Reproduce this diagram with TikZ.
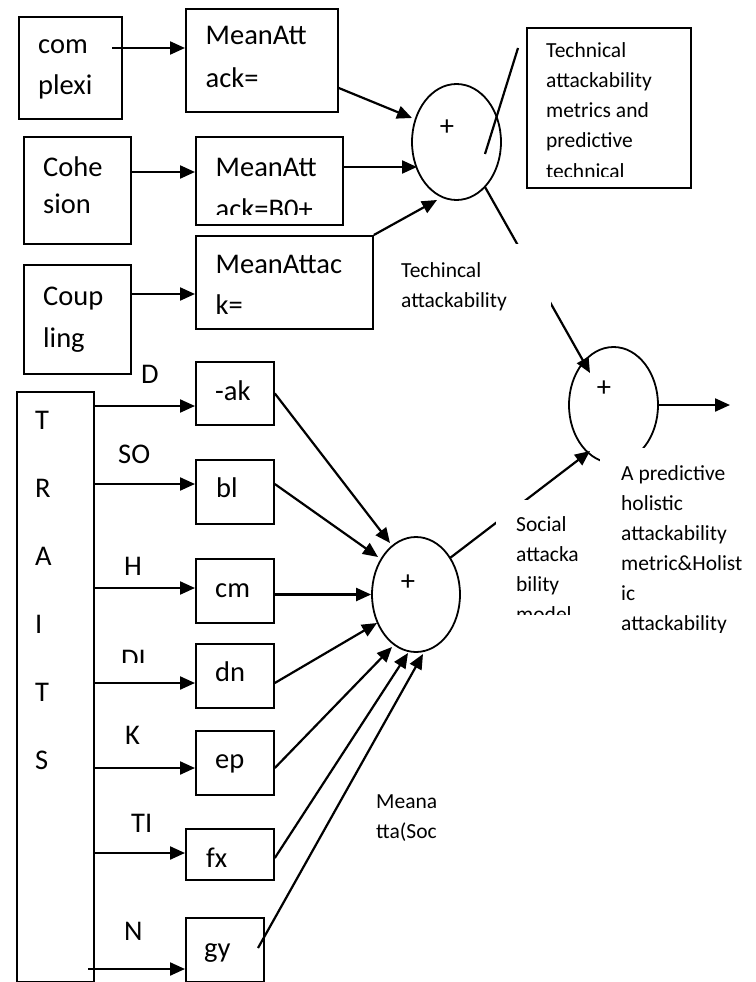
\documentclass[tikz,border=0pt]{standalone}
\usepackage{fontspec}
\setmainfont{Carlito}
\usetikzlibrary{arrows.meta,shapes.geometric}
\tikzset{
  bx/.style={draw, line width=1.8pt, inner sep=0, anchor=north west},
  ov/.style={draw, ellipse, line width=1.8pt, inner sep=0},
  ar/.style={line width=2.2pt, -{Triangle[length=15pt,width=13pt]}},
  ln/.style={line width=2.2pt},
  big/.style={font=\fontsize{28.5}{30}\selectfont, anchor=base west, inner sep=0},
  sm/.style={font=\fontsize{21.5}{24}\selectfont, anchor=base west, inner sep=0},
  pl/.style={font=\fontsize{28.5}{30}\selectfont, anchor=center, inner sep=0},
  wb/.style={fill=white, inner sep=0, anchor=north west},
}
\newcommand\mkbox[5]{\node[bx, minimum width={#4pt-#2pt}, minimum height={#5pt-#3pt}] (#1) at (#2,-#3) {};}
\newcommand\tline[5]{\node[#1] (#2) at (#3,-#4) {#5};}
\begin{document}
\begin{tikzpicture}[x=1pt,y=1pt]
\useasboundingbox (0,0) rectangle (755,-982);
% boxes
\mkbox{cx}{18}{16}{121}{118}
\mkbox{ma1}{185}{8}{337}{111}
\mkbox{coh}{23}{136}{130}{243}
\mkbox{ma2}{195}{136}{342}{224}
\mkbox{cou}{23}{264}{130}{373}
\mkbox{ma3}{195}{235}{372}{328}
\mkbox{tech}{526}{27}{690}{187}
\mkbox{tr}{16}{391}{93}{981}
\mkbox{ak}{195}{361}{273}{424}
\mkbox{bl}{195}{459}{273}{523}
\mkbox{cm}{195}{558}{273}{622}
\mkbox{dn}{195}{643}{273}{707}
\mkbox{ep}{195}{730}{273}{794}
\mkbox{fx}{185}{828}{273}{879}
\mkbox{gy}{185}{917}{263}{981}
% ellipses
\node[ov, minimum width=89pt, minimum height=116pt] (c1) at (456.5,-142) {};
\node[ov, minimum width=89pt, minimum height=116pt] (c2) at (613.5,-405) {};
\node[ov, minimum width=88pt, minimum height=115pt] (c3) at (416,-594.5) {};
\node[pl] (p1) at (447,-128) {+};
\node[pl] (p2) at (604,-389) {+};
\node[pl] (p3) at (408,-583) {+};
% free coordinates
\coordinate (cxo) at (112,-48);
\coordinate (c1b) at (518,-48);
\coordinate (out) at (730,-405);
\coordinate (ns) at (88,-969);
\coordinate (gys) at (258,-948);
% top connectors
\draw[ar] (cxo) -- (ma1.west |- cxo);
\draw[ar] (coh.east |- 0,-172) -- (ma2.west |- 0,-172);
\draw[ar] (cou.east |- 0,-294) -- (ma3.west |- 0,-294);
\draw[ar] (ma1.east |- 0,-88) -- ([shift={(-44.5,24)}]c1.center);
\draw[ar] (ma2.east |- 0,-167) -- ([shift={(-39.5,-25)}]c1.center);
\draw[ar] (ma3.north east) -- ([shift={(-19.5,-58)}]c1.center);
\draw[ln] ([shift={(28.5,-12)}]c1.center) -- (c1b);
\draw[ar] ([shift={(28.5,-45)}]c1.center) -- ([shift={(-23.5,32)}]c2.center);
\draw[ar] ([shift={(34,36.5)}]c3.center) -- ([shift={(-23.5,-46)}]c2.center);
\draw[ar] (c2.east) -- (out);
% traits connectors
\draw[ar] (tr.east |- 0,-406) -- (ak.west |- 0,-406);
\draw[ar] (tr.east |- 0,-484) -- (bl.west |- 0,-484);
\draw[ar] (tr.east |- 0,-588) -- (cm.west |- 0,-588);
\draw[ar] (tr.east |- 0,-683) -- (dn.west |- 0,-683);
\draw[ar] (tr.east |- 0,-768) -- (ep.west |- 0,-768);
\draw[ar] (tr.east |- 0,-853) -- (fx.west |- 0,-853);
\draw[ar] (ns) -- (gy.west |- ns);
% to c3
\draw[ar] (ak.east) -- ([shift={(-26,51.5)}]c3.center);
\draw[ar] (bl.east |- 0,-484) -- ([shift={(-38,37.5)}]c3.center);
\draw[ar] (cm.east |- c3.west) -- (c3.west);
\draw[ar] (dn.east |- 0,-683) -- ([shift={(-39,-28.5)}]c3.center);
\draw[ar] (ep.east |- 0,-768) -- ([shift={(-24,-52.5)}]c3.center);
\draw[ar] (fx.east |- 0,-858) -- ([shift={(-8,-58.5)}]c3.center);
\draw[ar] (gys) -- ([shift={(7,-59.5)}]c3.center);
% white label boxes
\node[wb, minimum width=156pt, minimum height=71pt] (tlb) at (395,-244) {};
\node[wb, minimum width=102pt, minimum height=114pt] (slb) at (496,-500) {};
\node[wb, minimum width=155pt, minimum height=184pt] (hlb) at (600,-448) {};
% texts
\tline{big}{t1}{38}{54}{com}
\tline{big}{t2}{38}{94}{plexi}
\tline{big}{t3}{205.5}{45}{MeanAtt}
\tline{big}{t4}{205.5}{87}{ack=}
\tline{big}{t5}{43}{176}{Cohe}
\tline{big}{t6}{43}{213}{sion}
\tline{big}{t7}{215.5}{176}{MeanAtt}
\begin{scope}
\clip (195,-136) rectangle (342,-214);
\tline{big}{t8}{215.5}{218}{ack=B0+}
\end{scope}
\tline{big}{t9}{43}{305}{Coup}
\tline{big}{t10}{43}{347}{ling}
\tline{big}{t11}{215.5}{273}{MeanAttac}
\tline{big}{t12}{215.5}{314}{k=}
\tline{sm}{t13}{546}{58}{Technical}
\tline{sm}{t14}{546}{88}{attackability}
\tline{sm}{t15}{546}{117}{metrics and}
\tline{sm}{t16}{546}{147}{predictive}
\begin{scope}
\clip (526,-27) rectangle (690,-176);
\tline{sm}{t17}{546}{178}{technical}
\end{scope}
\tline{sm}{t18}{401}{277}{Techincal}
\tline{sm}{t19}{401}{307}{attackability}
\tline{sm}{t20}{516}{531}{Social}
\tline{sm}{t21}{516}{561}{attacka}
\tline{sm}{t22}{516}{591}{bility}
\begin{scope}
\clip (496,-500) rectangle (598,-614);
\tline{sm}{t23}{516}{621}{model}
\end{scope}
\tline{sm}{t24}{621}{480}{A predictive}
\tline{sm}{t25}{621}{510}{holistic}
\tline{sm}{t26}{621}{540}{attackability}
\tline{sm}{t27}{621}{570}{metric\&Holist}
\tline{sm}{t28}{621}{600}{ic}
\begin{scope}
\clip (600,-448) rectangle (755,-632);
\tline{sm}{t29}{621}{630}{attackability}
\end{scope}
\tline{sm}{t30}{376}{808}{Meana}
\tline{sm}{t31}{376}{838}{tta(Soc}
% traits letters
\tline{big}{r1}{35}{429}{T}
\tline{big}{r2}{35}{497}{R}
\tline{big}{r3}{35}{565}{A}
\tline{big}{r4}{35}{633}{I}
\tline{big}{r5}{35}{701}{T}
\tline{big}{r6}{35}{769}{S}
% arrow labels
\tline{big}{l1}{141}{383}{D}
\tline{big}{l2}{118}{463}{SO}
\tline{big}{l3}{124}{575}{H}
\begin{scope}
\clip (100,-640) rectangle (180,-662);
\tline{big}{l4}{121}{668}{DI}
\end{scope}
\tline{big}{l5}{125}{744}{K}
\tline{big}{l6}{131}{832}{TI}
\tline{big}{l7}{124}{940}{N}
% box texts
\tline{big}{b1}{215}{400}{-ak}
\tline{big}{b2}{216}{497}{bl}
\tline{big}{b3}{215}{597}{cm}
\tline{big}{b4}{215}{681}{dn}
\tline{big}{b5}{215}{768}{ep}
\tline{big}{b6}{206}{867}{fx}
\tline{big}{b7}{204}{957}{gy}
\end{tikzpicture}
\end{document}
